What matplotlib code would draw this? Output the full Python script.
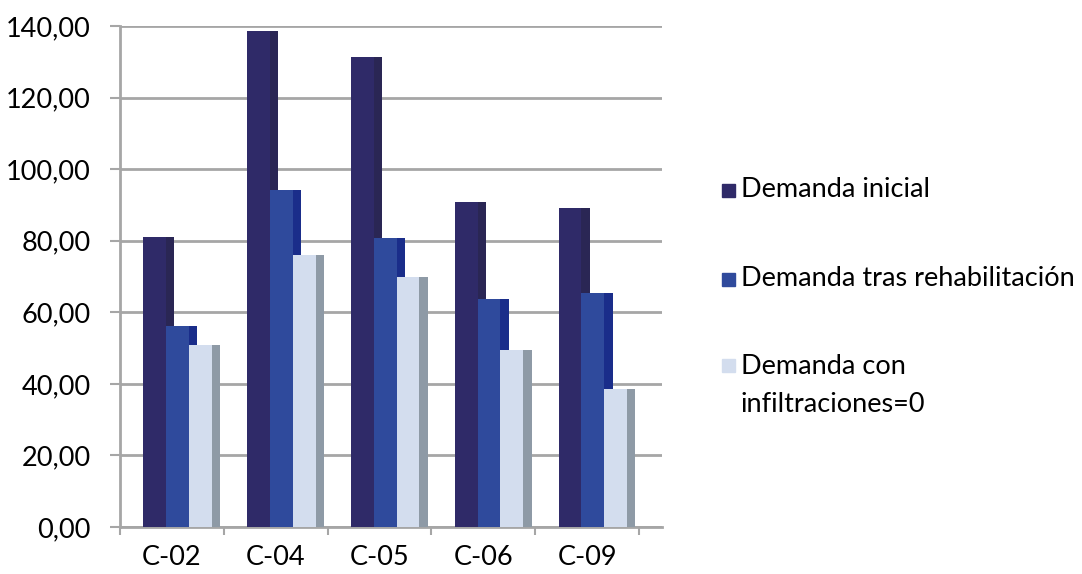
import matplotlib.pyplot as plt
import numpy as np
from matplotlib.patches import Rectangle

categorias = ['C-02', 'C-04', 'C-05', 'C-06', 'C-09']
demanda_inicial = [81.0, 138.6, 131.3, 90.8, 89.1]
demanda_rehab = [56.2, 94.2, 80.7, 63.7, 65.4]
demanda_infiltr0 = [50.9, 76.0, 69.9, 49.5, 38.6]

series = [
    ('Demanda inicial', demanda_inicial, '#2f2a68', '#2a2654'),
    ('Demanda tras rehabilitación', demanda_rehab, '#2f4a9c', '#1a2d8a'),
    ('Demanda con\ninfiltraciones=0', demanda_infiltr0, '#d3ddee', '#8e9aa6'),
]

plt.rcParams['font.family'] = ['Lato', 'DejaVu Sans']
fsize = 19.5

fig = plt.figure(figsize=(10.82, 5.74), dpi=100)
ax = fig.add_axes([120 / 1082, 47 / 574, 542 / 1082, 501 / 574])

x = np.arange(len(categorias))
w_front = 0.22
w_side = 0.08
start = -0.275

for i, (nombre, vals, c_front, c_side) in enumerate(series):
    left = x + start + i * w_front
    ax.bar(left + w_front, vals, width=w_side, align='edge', color=c_side, zorder=2 + 2 * i)
    ax.bar(left, vals, width=w_front, align='edge', color=c_front, zorder=3 + 2 * i)

ax.set_ylim(0, 140)
ax.set_xlim(-0.5, -0.5 + 543 / 104)
yt = np.arange(0, 141, 20)
ax.set_yticks(yt)
ax.set_yticklabels([('%.2f' % v).replace('.', ',') for v in yt], fontsize=fsize)
ax.yaxis.grid(True, color='#a6a6a6', linewidth=2, zorder=0)
ax.set_axisbelow(True)

ax.set_xticks(x)
ax.set_xticklabels(categorias, fontsize=fsize)
ax.set_xticks(np.arange(-0.5, 5, 1), minor=True)
ax.tick_params(axis='x', which='major', length=0, pad=13)
ax.tick_params(axis='x', which='minor', length=6, width=1.5, color='#a6a6a6', direction='out')
ax.tick_params(axis='y', length=7, width=1.5, color='#a6a6a6', pad=14)

for s in ['top', 'right']:
    ax.spines[s].set_visible(False)
for s in ['left', 'bottom']:
    ax.spines[s].set_color('#a6a6a6')
    ax.spines[s].set_linewidth(2)

# leyenda a mano
leg_y = [190, 279, 365]
text_y = [190, 279, 385]
for (nombre, vals, c_front, c_side), yy, ty in zip(series, leg_y, text_y):
    fig.patches.append(Rectangle((722 / 1082, (574 - yy - 7) / 574), 13 / 1082, 13 / 574,
                                 transform=fig.transFigure, color=c_front, figure=fig))
    fig.text(741 / 1082, (574 - ty) / 574, nombre, fontsize=fsize, va='center',
             linespacing=1.65)

fig.savefig('out.png', dpi=100, facecolor='white')
